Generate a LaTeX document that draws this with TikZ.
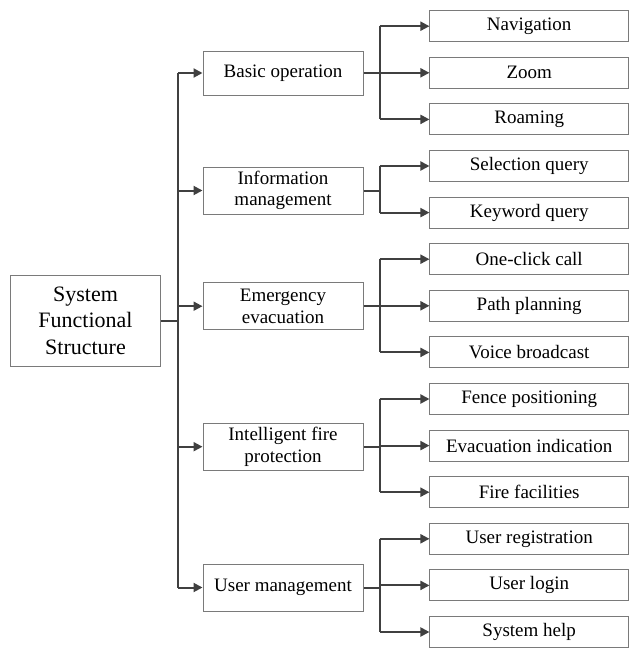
\documentclass[tikz,border=0pt]{standalone}
\usepackage{fontspec}
\setmainfont{Liberation Serif}
\usetikzlibrary{arrows.meta}
\definecolor{boxline}{HTML}{7A7A7A}
\definecolor{conline}{HTML}{404040}
\begin{document}
\begin{tikzpicture}[x=1pt,y=-1pt,
  box/.style={draw=boxline,line width=1pt,rectangle,inner sep=0pt,align=center,text=black},
  rootbox/.style={box,minimum width=150pt,minimum height=91pt,font=\fontsize{22}{26.5}\selectfont},
  midbox/.style={box,minimum width=160pt,minimum height=47pt,font=\fontsize{19}{21.5}\selectfont},
  leafbox/.style={box,minimum width=198.5pt,minimum height=31pt,font=\fontsize{19}{21.5}\selectfont},
  conn/.style={draw=conline,line width=2pt},
  arr/.style={conn,-{Triangle[length=9pt,width=9pt]}}]
\useasboundingbox (0,0) rectangle (630,648);
\fill[white] (0,0) rectangle (630,648);

\node[rootbox] (root) at (85.5,320.5) {System\\Functional\\Structure};

\node[midbox,minimum height=44pt] (m1) at (283,73) {Basic operation};
\node[midbox] (m2) at (283,190.5) {Information\\management};
\node[midbox] (m3) at (283,306.2) {Emergency\\evacuation};
\node[midbox] (m4) at (283,446.7) {Intelligent fire\\protection};
\node[midbox] (m5) at (283,587.5) {User management};

\node[leafbox] (l1) at (529.2,26.2) {Navigation};
\node[leafbox] (l2) at (529.2,72.8) {Zoom};
\node[leafbox] (l3) at (529.2,119.4) {Roaming};
\node[leafbox] (l4) at (529.2,166.0) {Selection query};
\node[leafbox] (l5) at (529.2,212.6) {Keyword query};
\node[leafbox] (l6) at (529.2,259.2) {One-click call};
\node[leafbox] (l7) at (529.2,305.8) {Path planning};
\node[leafbox] (l8) at (529.2,352.4) {Voice broadcast};
\node[leafbox] (l9) at (529.2,399.0) {Fence positioning};
\node[leafbox] (l10) at (529.2,445.6) {Evacuation indication};
\node[leafbox] (l11) at (529.2,492.2) {Fire facilities};
\node[leafbox] (l12) at (529.2,538.8) {User registration};
\node[leafbox] (l13) at (529.2,585.4) {User login};
\node[leafbox] (l14) at (529.2,632.0) {System help};

% root bus
\coordinate (rb) at (178,320.5);
\draw[conn] (root.east) -- (rb);
\draw[conn] (rb |- m1.west) -- (rb |- m5.west);
\foreach \m in {m1,m2,m3,m4,m5}{
  \draw[arr] (rb |- \m.west) -- (\m.west);
}

% leaf buses
\coordinate (lb) at (379.5,0);
\draw[conn] (m1.east) -- (lb |- m1.east);
\draw[conn] (lb |- l1.west) -- (lb |- l3.west);
\foreach \l in {l1,l2,l3}{ \draw[arr] (lb |- \l.west) -- (\l.west); }

\draw[conn] (m2.east) -- (lb |- m2.east);
\draw[conn] (lb |- l4.west) -- (lb |- l5.west);
\foreach \l in {l4,l5}{ \draw[arr] (lb |- \l.west) -- (\l.west); }

\draw[conn] (m3.east) -- (lb |- m3.east);
\draw[conn] (lb |- l6.west) -- (lb |- l8.west);
\foreach \l in {l6,l7,l8}{ \draw[arr] (lb |- \l.west) -- (\l.west); }

\draw[conn] (m4.east) -- (lb |- m4.east);
\draw[conn] (lb |- l9.west) -- (lb |- l11.west);
\foreach \l in {l9,l10,l11}{ \draw[arr] (lb |- \l.west) -- (\l.west); }

\draw[conn] (m5.east) -- (lb |- m5.east);
\draw[conn] (lb |- l12.west) -- (lb |- l14.west);
\foreach \l in {l12,l13,l14}{ \draw[arr] (lb |- \l.west) -- (\l.west); }
\end{tikzpicture}
\end{document}
